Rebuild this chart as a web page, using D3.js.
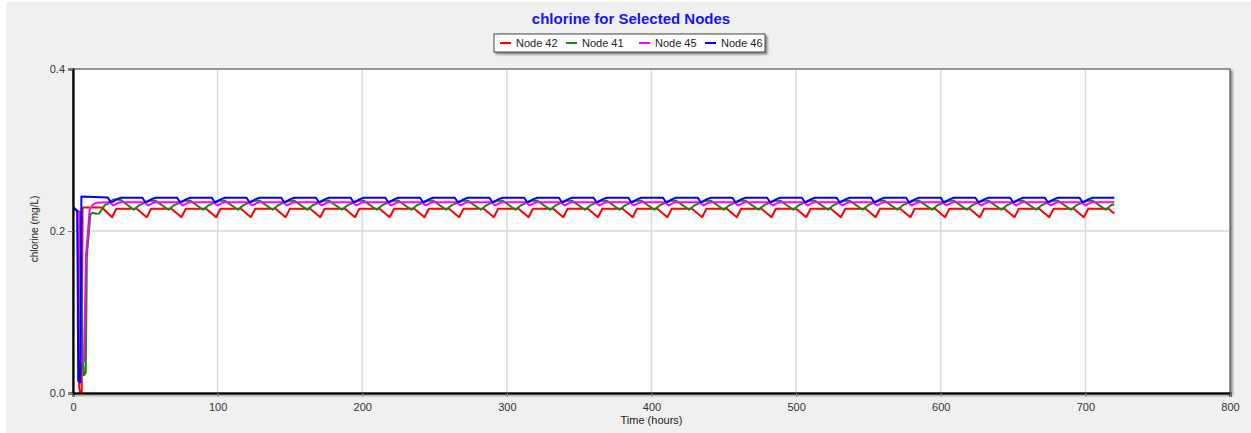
<!DOCTYPE html>
<html>
<head>
<meta charset="utf-8">
<script src="https://cdn.jsdelivr.net/npm/d3@7"></script>
<style>
  html, body { margin: 0; padding: 0; background: #ffffff; }
  svg { display: block; }
  text { font-family: "Liberation Sans", Arial, sans-serif; }
</style>
</head>
<body>
<svg id="chart" width="1251" height="433"></svg>
<script>
// Chart text and axis ticks
const chartTitle = "chlorine for Selected Nodes";
const xLabel = "Time (hours)";
const yLabel = "chlorine (mg/L)";
const xTicks = [0, 100, 200, 300, 400, 500, 600, 700, 800];
const yTicks = [0.0, 0.2, 0.4];

// Series shown in the legend, in drawing order
const seriesNames = ["Node 42", "Node 41", "Node 45", "Node 46"];
const seriesColors = ["#ff0000", "#118811", "#ff00ff", "#0000ff"];

// Chlorine concentration (mg/L) at simulation time (hours), one [time, value] per vertex
const node42 = [
  [0,0.2295],[3,0.2245],[4.3,0.006],[5,0],[6,0],[6.6,0.229],[20,0.229],[27,0.217],[30,0.2275],
  [44,0.2275],[51,0.217],[54,0.2275],[68,0.2275],[75,0.217],[78,0.2275],
  [92,0.2275],[99,0.217],[102,0.2275],[116,0.2275],[123,0.217],[126,0.2275],
  [140,0.2275],[147,0.217],[150,0.2275],[164,0.2275],[171,0.217],[174,0.2275],
  [188,0.2275],[195,0.217],[198,0.2275],[212,0.2275],[219,0.217],[222,0.2275],
  [236,0.2275],[243,0.217],[246,0.2275],[260,0.2275],[267,0.217],[270,0.2275],
  [284,0.2275],[291,0.217],[294,0.2275],[308,0.2275],[315,0.217],[318,0.2275],
  [332,0.2275],[339,0.217],[342,0.2275],[356,0.2275],[363,0.217],[366,0.2275],
  [380,0.2275],[387,0.217],[390,0.2275],[404,0.2275],[411,0.217],[414,0.2275],
  [428,0.2275],[435,0.217],[438,0.2275],[452,0.2275],[459,0.217],[462,0.2275],
  [476,0.2275],[483,0.217],[486,0.2275],[500,0.2275],[507,0.217],[510,0.2275],
  [524,0.2275],[531,0.217],[534,0.2275],[548,0.2275],[555,0.217],[558,0.2275],
  [572,0.2275],[579,0.217],[582,0.2275],[596,0.2275],[603,0.217],[606,0.2275],
  [620,0.2275],[627,0.217],[630,0.2275],[644,0.2275],[651,0.217],[654,0.2275],
  [668,0.2275],[675,0.217],[678,0.2275],[692,0.2275],[699,0.217],[702,0.2275],
  [716,0.2275],[720,0.2215]
];

const node41 = [
  [0,0.2295],[3,0.2245],[5.5,0.2235],[6.5,0.05],[7.6,0.022],[8.8,0.025],[9.6,0.17],[12,0.2205],[13.5,0.2225],
  [16,0.2212],[18,0.2215],[22,0.232],[24,0.2335],[28,0.239],[33,0.2385],
  [42,0.2262],[46,0.232],[48,0.2335],[52,0.2375],[57,0.2375],
  [66,0.2262],[70,0.232],[72,0.2335],[76,0.2375],[81,0.2375],
  [90,0.2262],[94,0.232],[96,0.2335],[100,0.2375],[105,0.2375],
  [114,0.2262],[118,0.232],[120,0.2335],[124,0.2375],[129,0.2375],
  [138,0.2262],[142,0.232],[144,0.2335],[148,0.2375],[153,0.2375],
  [162,0.2262],[166,0.232],[168,0.2335],[172,0.2375],[177,0.2375],
  [186,0.2262],[190,0.232],[192,0.2335],[196,0.2375],[201,0.2375],
  [210,0.2262],[214,0.232],[216,0.2335],[220,0.2375],[225,0.2375],
  [234,0.2262],[238,0.232],[240,0.2335],[244,0.2375],[249,0.2375],
  [258,0.2262],[262,0.232],[264,0.2335],[268,0.2375],[273,0.2375],
  [282,0.2262],[286,0.232],[288,0.2335],[292,0.2375],[297,0.2375],
  [306,0.2262],[310,0.232],[312,0.2335],[316,0.2375],[321,0.2375],
  [330,0.2262],[334,0.232],[336,0.2335],[340,0.2375],[345,0.2375],
  [354,0.2262],[358,0.232],[360,0.2335],[364,0.2375],[369,0.2375],
  [378,0.2262],[382,0.232],[384,0.2335],[388,0.2375],[393,0.2375],
  [402,0.2262],[406,0.232],[408,0.2335],[412,0.2375],[417,0.2375],
  [426,0.2262],[430,0.232],[432,0.2335],[436,0.2375],[441,0.2375],
  [450,0.2262],[454,0.232],[456,0.2335],[460,0.2375],[465,0.2375],
  [474,0.2262],[478,0.232],[480,0.2335],[484,0.2375],[489,0.2375],
  [498,0.2262],[502,0.232],[504,0.2335],[508,0.2375],[513,0.2375],
  [522,0.2262],[526,0.232],[528,0.2335],[532,0.2375],[537,0.2375],
  [546,0.2262],[550,0.232],[552,0.2335],[556,0.2375],[561,0.2375],
  [570,0.2262],[574,0.232],[576,0.2335],[580,0.2375],[585,0.2375],
  [594,0.2262],[598,0.232],[600,0.2335],[604,0.2375],[609,0.2375],
  [618,0.2262],[622,0.232],[624,0.2335],[628,0.2375],[633,0.2375],
  [642,0.2262],[646,0.232],[648,0.2335],[652,0.2375],[657,0.2375],
  [666,0.2262],[670,0.232],[672,0.2335],[676,0.2375],[681,0.2375],
  [690,0.2262],[694,0.232],[696,0.2335],[700,0.2375],[705,0.2375],
  [714,0.2262],[718,0.232],[720,0.2328]
];

const node45 = [
  [0,0.2295],[3,0.2245],[4.6,0.2235],[5.4,0.04],[7.6,0.039],[9,0.17],[11.5,0.226],[14,0.233],[16,0.2348],
  [25,0.2355],[28,0.2315],[31,0.2345],[33,0.2355],
  [49,0.2355],[52,0.2315],[55,0.2345],[57,0.2355],
  [73,0.2355],[76,0.2315],[79,0.2345],[81,0.2355],
  [97,0.2355],[100,0.2315],[103,0.2345],[105,0.2355],
  [121,0.2355],[124,0.2315],[127,0.2345],[129,0.2355],
  [145,0.2355],[148,0.2315],[151,0.2345],[153,0.2355],
  [169,0.2355],[172,0.2315],[175,0.2345],[177,0.2355],
  [193,0.2355],[196,0.2315],[199,0.2345],[201,0.2355],
  [217,0.2355],[220,0.2315],[223,0.2345],[225,0.2355],
  [241,0.2355],[244,0.2315],[247,0.2345],[249,0.2355],
  [265,0.2355],[268,0.2315],[271,0.2345],[273,0.2355],
  [289,0.2355],[292,0.2315],[295,0.2345],[297,0.2355],
  [313,0.2355],[316,0.2315],[319,0.2345],[321,0.2355],
  [337,0.2355],[340,0.2315],[343,0.2345],[345,0.2355],
  [361,0.2355],[364,0.2315],[367,0.2345],[369,0.2355],
  [385,0.2355],[388,0.2315],[391,0.2345],[393,0.2355],
  [409,0.2355],[412,0.2315],[415,0.2345],[417,0.2355],
  [433,0.2355],[436,0.2315],[439,0.2345],[441,0.2355],
  [457,0.2355],[460,0.2315],[463,0.2345],[465,0.2355],
  [481,0.2355],[484,0.2315],[487,0.2345],[489,0.2355],
  [505,0.2355],[508,0.2315],[511,0.2345],[513,0.2355],
  [529,0.2355],[532,0.2315],[535,0.2345],[537,0.2355],
  [553,0.2355],[556,0.2315],[559,0.2345],[561,0.2355],
  [577,0.2355],[580,0.2315],[583,0.2345],[585,0.2355],
  [601,0.2355],[604,0.2315],[607,0.2345],[609,0.2355],
  [625,0.2355],[628,0.2315],[631,0.2345],[633,0.2355],
  [649,0.2355],[652,0.2315],[655,0.2345],[657,0.2355],
  [673,0.2355],[676,0.2315],[679,0.2345],[681,0.2355],
  [697,0.2355],[700,0.2315],[703,0.2345],[705,0.2355],
  [720,0.2355]
];

const node46 = [
  [0,0.2295],[3,0.2245],[3.6,0.015],[5,0.013],[5.8,0.2425],
  [24,0.2415],[26,0.2355],[28,0.2365],[30,0.239],[33,0.241],
  [48,0.241],[50,0.2355],[52,0.2365],[54,0.239],[57,0.241],
  [72,0.241],[74,0.2355],[76,0.2365],[78,0.239],[81,0.241],
  [96,0.241],[98,0.2355],[100,0.2365],[102,0.239],[105,0.241],
  [120,0.241],[122,0.2355],[124,0.2365],[126,0.239],[129,0.241],
  [144,0.241],[146,0.2355],[148,0.2365],[150,0.239],[153,0.241],
  [168,0.241],[170,0.2355],[172,0.2365],[174,0.239],[177,0.241],
  [192,0.241],[194,0.2355],[196,0.2365],[198,0.239],[201,0.241],
  [216,0.241],[218,0.2355],[220,0.2365],[222,0.239],[225,0.241],
  [240,0.241],[242,0.2355],[244,0.2365],[246,0.239],[249,0.241],
  [264,0.241],[266,0.2355],[268,0.2365],[270,0.239],[273,0.241],
  [288,0.241],[290,0.2355],[292,0.2365],[294,0.239],[297,0.241],
  [312,0.241],[314,0.2355],[316,0.2365],[318,0.239],[321,0.241],
  [336,0.241],[338,0.2355],[340,0.2365],[342,0.239],[345,0.241],
  [360,0.241],[362,0.2355],[364,0.2365],[366,0.239],[369,0.241],
  [384,0.241],[386,0.2355],[388,0.2365],[390,0.239],[393,0.241],
  [408,0.241],[410,0.2355],[412,0.2365],[414,0.239],[417,0.241],
  [432,0.241],[434,0.2355],[436,0.2365],[438,0.239],[441,0.241],
  [456,0.241],[458,0.2355],[460,0.2365],[462,0.239],[465,0.241],
  [480,0.241],[482,0.2355],[484,0.2365],[486,0.239],[489,0.241],
  [504,0.241],[506,0.2355],[508,0.2365],[510,0.239],[513,0.241],
  [528,0.241],[530,0.2355],[532,0.2365],[534,0.239],[537,0.241],
  [552,0.241],[554,0.2355],[556,0.2365],[558,0.239],[561,0.241],
  [576,0.241],[578,0.2355],[580,0.2365],[582,0.239],[585,0.241],
  [600,0.241],[602,0.2355],[604,0.2365],[606,0.239],[609,0.241],
  [624,0.241],[626,0.2355],[628,0.2365],[630,0.239],[633,0.241],
  [648,0.241],[650,0.2355],[652,0.2365],[654,0.239],[657,0.241],
  [672,0.241],[674,0.2355],[676,0.2365],[678,0.239],[681,0.241],
  [696,0.241],[698,0.2355],[700,0.2365],[702,0.239],[705,0.241],
  [720,0.241]
];

const seriesData = [node42, node41, node45, node46];

// ---- layout ----
const W = 1251, H = 433;
const plot = { left: 73, right: 1230, top: 69, bottom: 393 };

const svg = d3.select("#chart");

// grey panel behind everything
svg.append("rect")
  .attr("x", 6).attr("y", 2).attr("width", W - 6).attr("height", H - 2)
  .attr("fill", "#f0f0f0");

const x = d3.scaleLinear().domain([0, 800]).range([plot.left, plot.right]);
const y = d3.scaleLinear().domain([0, 0.4]).range([plot.bottom, plot.top]);

// drop shadow for the plot frame and legend
const defs = svg.append("defs");
const shadow = defs.append("filter").attr("id", "shadow")
  .attr("x", "-5%").attr("y", "-20%").attr("width", "110%").attr("height", "160%");
shadow.append("feDropShadow").attr("dx", 2).attr("dy", 2).attr("stdDeviation", 1)
  .attr("flood-color", "#000").attr("flood-opacity", 0.45);

// plot area
svg.append("rect")
  .attr("x", plot.left).attr("y", plot.top)
  .attr("width", plot.right - plot.left).attr("height", plot.bottom - plot.top)
  .attr("fill", "#ffffff").attr("stroke", "#555").attr("stroke-width", 1.2)
  .attr("filter", "url(#shadow)");

// gridlines
const grid = svg.append("g");
grid.selectAll("line.vx").data(xTicks.filter(d => d > 0 && d < 800)).join("line")
  .attr("x1", d => x(d)).attr("x2", d => x(d))
  .attr("y1", plot.top + 1).attr("y2", plot.bottom - 1)
  .attr("stroke", "#d9d9d9").attr("stroke-width", 1.5);
grid.selectAll("line.hy").data(yTicks.filter(d => d > 0 && d < 0.4)).join("line")
  .attr("x1", plot.left + 1).attr("x2", plot.right - 1)
  .attr("y1", d => y(d)).attr("y2", d => y(d))
  .attr("stroke", "#d9d9d9").attr("stroke-width", 1.5);

// series lines
const clip = defs.append("clipPath").attr("id", "plotclip");
clip.append("rect").attr("x", plot.left).attr("y", plot.top)
  .attr("width", plot.right - plot.left).attr("height", plot.bottom - plot.top);

const line = d3.line().x(d => x(d[0])).y(d => y(d[1]));
svg.append("g").attr("clip-path", "url(#plotclip)")
  .selectAll("path").data(seriesData).join("path")
  .attr("d", line)
  .attr("fill", "none")
  .attr("stroke", (d, i) => seriesColors[i])
  .attr("stroke-width", 2)
  .attr("stroke-linejoin", "round");

// axes
const xAxis = d3.axisBottom(x).tickValues(xTicks).tickSize(4).tickPadding(6).tickFormat(d3.format("d"));
const gx = svg.append("g").attr("transform", `translate(0,${plot.bottom})`).call(xAxis);
gx.select(".domain").attr("stroke", "#000").attr("stroke-width", 2);
gx.selectAll(".tick line").attr("stroke", "#888");
gx.selectAll(".tick text").attr("fill", "#333").style("font-size", "11px")
  .style("font-family", "'Liberation Sans', Arial, sans-serif");

const yAxis = d3.axisLeft(y).tickValues(yTicks).tickSize(5).tickPadding(3).tickFormat(d3.format(".1f"));
const gy = svg.append("g").attr("transform", `translate(${plot.left},0)`).call(yAxis);
gy.select(".domain").attr("stroke", "#000").attr("stroke-width", 2.2);
gy.selectAll(".tick line").attr("stroke", "#888");
gy.selectAll(".tick text").attr("fill", "#333").style("font-size", "11px")
  .style("font-family", "'Liberation Sans', Arial, sans-serif");

// axis titles
svg.append("text")
  .attr("x", (plot.left + plot.right) / 2).attr("y", 424)
  .attr("text-anchor", "middle").attr("fill", "#222")
  .style("font-size", "11px").text(xLabel);

svg.append("text")
  .attr("transform", `translate(38,229) rotate(-90)`)
  .attr("text-anchor", "middle").attr("fill", "#222")
  .style("font-size", "10px").text(yLabel);

// title
svg.append("text")
  .attr("x", 631).attr("y", 24)
  .attr("text-anchor", "middle").attr("fill", "#1414ff")
  .style("font-size", "15px").style("font-weight", "bold").text(chartTitle);

// legend
const legend = svg.append("g");
legend.append("rect")
  .attr("x", 494).attr("y", 34).attr("width", 271).attr("height", 18)
  .attr("fill", "#fff").attr("stroke", "#444").attr("stroke-width", 1)
  .attr("filter", "url(#shadow)");
const itemX = [500, 566, 639, 705];
const items = legend.selectAll("g.item").data(seriesNames).join("g")
  .attr("transform", (d, i) => `translate(${itemX[i]},43)`);
items.append("line")
  .attr("x1", 0).attr("x2", 11).attr("y1", 0).attr("y2", 0)
  .attr("stroke", (d, i) => seriesColors[i]).attr("stroke-width", 2);
items.append("text")
  .attr("x", 16).attr("y", 4)
  .attr("fill", "#222").style("font-size", "11px")
  .text(d => d);
</script>
</body>
</html>
